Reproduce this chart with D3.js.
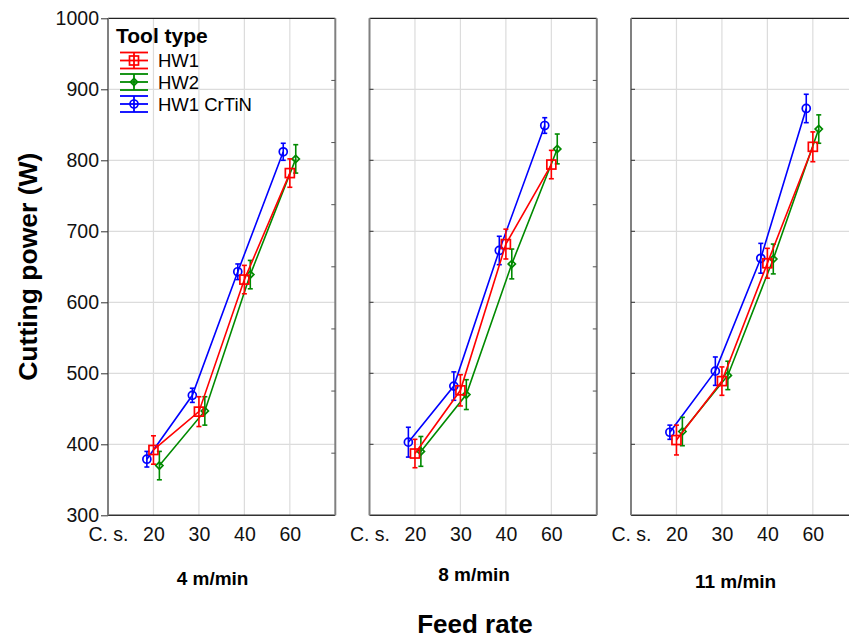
<!DOCTYPE html>
<html>
<head>
<meta charset="utf-8">
<script src="https://cdn.jsdelivr.net/npm/d3@7"></script>
<style>
  html, body { margin: 0; padding: 0; background: #ffffff; }
  svg { display: block; }
  text { font-family: "Liberation Sans", Arial, sans-serif; }
</style>
</head>
<body>
<div id="chart"></div>
<script>
// ---------- data ----------
const categories = ["C. s.", "20", "30", "40", "60"];
const panelLabels = ["4 m/min", "8 m/min", "11 m/min"];
const seriesNames = ["HW1", "HW2", "HW1 CrTiN"];
const yTicks = [300, 400, 500, 600, 700, 800, 900, 1000];

// means per panel (feed rates 20, 30, 40, 60)
const hw1Mean   = [[392, 446, 632, 782], [387, 476, 682, 794], [406, 489, 655, 819]];
const hw1Err    = [[20, 21, 20, 20],     [20, 22, 21, 20],     [21, 20, 21, 21]];
const hw2Mean   = [[370, 447, 639, 802], [390, 470, 654, 816], [418, 497, 661, 844]];
const hw2Err    = [[20, 20, 20, 20],     [21, 21, 21, 21],     [20, 20, 21, 20]];
const crtinMean = [[379, 469, 643, 812], [403, 482, 673, 849], [417, 503, 662, 873]];
const crtinErr  = [[11, 10, 11, 12],     [21, 20, 20, 11],     [10, 20, 21, 20]];

// ---------- layout / style ----------
const W = 849, H = 640;
const plotTop = 18.3, plotBottom = 515.3;
const left0 = 108, panelW = 227.3, gap = 34.2;

const series = [
  { name: seriesNames[2], mean: crtinMean, err: crtinErr, color: "#0000ff", off: -0.145, marker: "circle" },
  { name: seriesNames[1], mean: hw2Mean,   err: hw2Err,   color: "#008a00", off: 0.13,  marker: "diamond" },
  { name: seriesNames[0], mean: hw1Mean,   err: hw1Err,   color: "#ff0000", off: 0.0,   marker: "square" }
];
const legendOrder = [series[2], series[1], series[0]];

const svg = d3.select("#chart").append("svg").attr("width", W).attr("height", H);

const y = d3.scaleLinear().domain([300, 1000]).range([plotBottom, plotTop]);
const x = d3.scaleLinear().domain([0, 5]).range([0, panelW]);

function drawMarker(g, type, cx, cy, color) {
  if (type === "circle") {
    g.append("circle").attr("cx", cx).attr("cy", cy).attr("r", 4)
      .attr("fill", "none").attr("stroke", color).attr("stroke-width", 1.7);
  } else if (type === "square") {
    g.append("rect").attr("x", cx - 4.5).attr("y", cy - 4.5).attr("width", 9).attr("height", 9)
      .attr("fill", "none").attr("stroke", color).attr("stroke-width", 1.7);
  } else {
    const r = 3.6;
    g.append("path").attr("d", `M${cx},${cy - r}L${cx + r},${cy}L${cx},${cy + r}L${cx - r},${cy}Z`)
      .attr("fill", "none").attr("stroke", color).attr("stroke-width", 1.7);
  }
}

panelLabels.forEach((lab, p) => {
  const g = svg.append("g").attr("transform", `translate(${left0 + p * (panelW + gap)},0)`);

  // grid
  g.append("g").selectAll("line").data(yTicks.filter(v => v > 300 && v < 1000)).join("line")
    .attr("x1", 0).attr("x2", panelW).attr("y1", d => y(d)).attr("y2", d => y(d))
    .attr("stroke", "#dcdcdc").attr("stroke-width", 1.2);
  g.append("g").selectAll("line").data([1, 2, 3, 4]).join("line")
    .attr("x1", d => x(d)).attr("x2", d => x(d)).attr("y1", plotTop).attr("y2", plotBottom)
    .attr("stroke", "#dcdcdc").attr("stroke-width", 1.2);

  // frame
  g.append("line").attr("x1", 0).attr("x2", panelW).attr("y1", plotTop).attr("y2", plotTop)
    .attr("stroke", "#222").attr("stroke-width", 1.2);
  g.append("line").attr("x1", 0).attr("x2", panelW).attr("y1", plotBottom).attr("y2", plotBottom)
    .attr("stroke", "#333").attr("stroke-width", 1.6);
  g.append("line").attr("x1", 0).attr("x2", 0).attr("y1", plotTop).attr("y2", plotBottom)
    .attr("stroke", "#808080").attr("stroke-width", 2);
  g.append("line").attr("x1", panelW).attr("x2", panelW).attr("y1", plotTop).attr("y2", plotBottom)
    .attr("stroke", "#808080").attr("stroke-width", 2);

  // inner ticks on right border (eighths of the axis)
  const rightTicks = d3.range(1, 8).map(k => 300 + (1000 - 300) * k / 8);
  g.append("g").selectAll("line").data(rightTicks).join("line")
    .attr("x1", panelW - 4).attr("x2", panelW).attr("y1", d => y(d)).attr("y2", d => y(d))
    .attr("stroke", "#555").attr("stroke-width", 1);
  if (p > 0) {
    g.append("g").selectAll("line").data(yTicks.filter(v => v > 300 && v < 1000)).join("line")
      .attr("x1", 0).attr("x2", 4).attr("y1", d => y(d)).attr("y2", d => y(d))
      .attr("stroke", "#333").attr("stroke-width", 1);
  }

  // x axis
  const xa = g.append("g").attr("transform", `translate(0,${plotBottom})`)
    .call(d3.axisBottom(x).tickValues([0, 1, 2, 3, 4]).tickFormat(i => categories[i]).tickSize(0).tickPadding(12));
  xa.select(".domain").remove();
  xa.selectAll("text").attr("font-size", "19.5px").attr("fill", "#111")
    .attr("font-family", "Liberation Sans, Arial, sans-serif");

  // y axis (first panel only)
  if (p === 0) {
    const ya = g.append("g")
      .call(d3.axisLeft(y).tickValues(yTicks).tickFormat(d3.format("d")).tickSize(7).tickPadding(2));
    ya.select(".domain").remove();
    ya.selectAll("line").attr("stroke", "#333");
    ya.selectAll("text").attr("font-size", "19.5px").attr("fill", "#111")
      .attr("font-family", "Liberation Sans, Arial, sans-serif");
  }

  // series
  series.forEach(s => {
    const pts = s.mean[p].map((v, i) => ({ px: x(i + 1 + s.off), v: v, e: s.err[p][i] }));
    g.append("path").datum(pts)
      .attr("d", d3.line().x(d => d.px).y(d => y(d.v)))
      .attr("fill", "none").attr("stroke", s.color).attr("stroke-width", 1.6);
    pts.forEach(d => {
      const eg = g.append("g").attr("stroke", s.color).attr("stroke-width", 1.6);
      eg.append("line").attr("x1", d.px).attr("x2", d.px).attr("y1", y(d.v - d.e)).attr("y2", y(d.v + d.e));
      eg.append("line").attr("x1", d.px - 2.5).attr("x2", d.px + 2.5).attr("y1", y(d.v - d.e)).attr("y2", y(d.v - d.e));
      eg.append("line").attr("x1", d.px - 2.5).attr("x2", d.px + 2.5).attr("y1", y(d.v + d.e)).attr("y2", y(d.v + d.e));
      drawMarker(g, s.marker, d.px, y(d.v), s.color);
    });
  });

  // panel label
  const labY = [584.5, 581, 588];
  g.append("text").attr("x", x(2.3)).attr("y", labY[p]).attr("text-anchor", "middle")
    .attr("font-size", "19px").attr("font-weight", "bold").attr("fill", "#000").text(lab);
});

// axis titles
svg.append("text").attr("transform", `translate(37,266.7) rotate(-90)`)
  .attr("text-anchor", "middle").attr("font-size", "26.5px").attr("font-weight", "bold")
  .attr("fill", "#000").text("Cutting power (W)");
svg.append("text").attr("x", 475).attr("y", 632.5).attr("text-anchor", "middle")
  .attr("font-size", "26px").attr("font-weight", "bold").attr("fill", "#000").text("Feed rate");

// legend
const lg = svg.append("g");
lg.append("text").attr("x", 116).attr("y", 43.3).attr("font-size", "21px").attr("font-weight", "bold")
  .attr("fill", "#000").text("Tool type");
const legBase = [67, 88.5, 110.5];
legendOrder.forEach((s, i) => {
  const cy = legBase[i] - 6.5;
  const sg = lg.append("g").attr("stroke", s.color).attr("stroke-width", 1.8);
  [-8, 0, 8].forEach(dy => sg.append("line").attr("x1", 120).attr("x2", 148).attr("y1", cy + dy).attr("y2", cy + dy));
  sg.append("line").attr("x1", 134).attr("x2", 134).attr("y1", cy - 8).attr("y2", cy + 8);
  drawMarker(lg, s.marker, 134, cy, s.color);
  lg.append("text").attr("x", 158).attr("y", legBase[i]).attr("font-size", "18.5px").attr("fill", "#000").text(s.name);
});
</script>
</body>
</html>
